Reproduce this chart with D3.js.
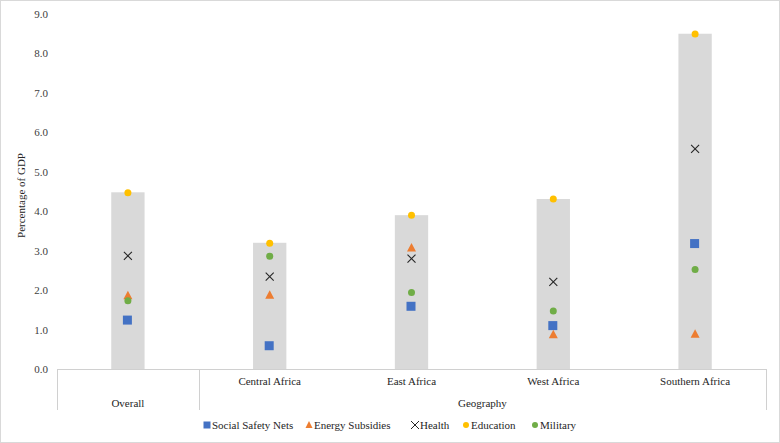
<!DOCTYPE html>
<html><head><meta charset="utf-8">
<script src="https://cdn.jsdelivr.net/npm/d3@7"></script>
<style>body{margin:0;background:#fff;} svg{display:block;} svg text{font-family:"Liberation Serif","Times New Roman","DejaVu Serif",serif !important;}</style>
</head><body>
<svg id="c" width="780" height="443"></svg>
<script>
const categories = ["Overall","Central Africa","East Africa","West Africa","Southern Africa"];
const groups = [{name:"Overall", from:0, to:0},{name:"Geography", from:1, to:4}];
const total = [4.48, 3.20, 3.90, 4.31, 8.50];
const socialSafetyNets = [1.24, 0.59, 1.59, 1.10, 3.18];
const energySubsidies = [1.86, 1.87, 3.07, 0.87, 0.88];
const health = [2.87, 2.34, 2.80, 2.21, 5.58];
const education = [4.47, 3.19, 3.90, 4.31, 8.49];
const military = [1.73, 2.86, 1.94, 1.47, 2.52];
const yTicks = [0,1,2,3,4,5,6,7,8,9];

(function(){
const svg = d3.select("#c");
const W=780,H=443;
const pl=57, pr=766, pt=14, pb=369;
svg.append("rect").attr("x",0.5).attr("y",0.5).attr("width",W-1).attr("height",H-1).attr("fill","#fff").attr("stroke","#d9d9d9");

const x = d3.scaleBand().domain(categories).range([pl,pr]).paddingInner(0).paddingOuter(0);
const y = d3.scaleLinear().domain([0,9]).range([pb,pt]);

// y axis
const ya = svg.append("g").attr("transform",`translate(${pl},0)`)
  .call(d3.axisLeft(y).tickValues(yTicks).tickFormat(d3.format(".1f")).tickSize(0).tickPadding(9));
ya.attr("font-family",null);
ya.select(".domain").remove();
ya.selectAll("text").attr("font-size",11).attr("fill","#404040");

svg.append("text").attr("transform",`translate(25,${(pt+pb)/2+4}) rotate(-90)`)
  .attr("text-anchor","middle").attr("font-size",11).attr("fill","#262626").text("Percentage of GDP");

// bars
const bw = x.bandwidth()*0.235;
svg.append("g").selectAll("rect").data(categories).join("rect")
  .attr("x",d=>x(d)+x.bandwidth()/2-bw/2).attr("width",bw)
  .attr("y",(d,i)=>y(total[i])).attr("height",(d,i)=>y(0)-y(total[i]))
  .attr("fill","#d9d9d9");

// category axis
const axc="#d0d0d0";
svg.append("line").attr("x1",pl).attr("x2",pr).attr("y1",pb+0.5).attr("y2",pb+0.5).attr("stroke",axc);
const seps=[pl, x(categories[1]), pr];
seps.forEach(s=>svg.append("line").attr("x1",Math.round(s)+0.5).attr("x2",Math.round(s)+0.5).attr("y1",pb).attr("y2",410).attr("stroke",axc));
svg.append("g").selectAll("text").data(categories).join("text")
  .attr("x",d=>x(d)+x.bandwidth()/2).attr("y",385).attr("text-anchor","middle")
  .attr("font-size",11).attr("fill","#262626")
  .text((d,i)=>i===0?"":d);
svg.append("g").selectAll("text").data(groups).join("text")
  .attr("x",g=>(x(categories[g.from])+x(categories[g.to])+x.bandwidth())/2).attr("y",407).attr("text-anchor","middle")
  .attr("font-size",11).attr("fill","#262626").text(g=>g.name);

// markers
const cx = d=>x(d)+x.bandwidth()/2;
const g = svg.append("g");
function square(vals,color){ g.append("g").selectAll("rect").data(categories).join("rect")
  .attr("x",d=>cx(d)-5).attr("y",(d,i)=>y(vals[i])-4.5).attr("width",9).attr("height",9).attr("fill",color);}
function tri(vals,color){ g.append("g").selectAll("path").data(categories).join("path")
  .attr("transform",(d,i)=>`translate(${cx(d)},${y(vals[i])})`)
  .attr("d","M0,-5L4.5,3.5L-4.5,3.5Z").attr("fill",color);}
function cross(vals,color){ g.append("g").selectAll("path").data(categories).join("path")
  .attr("transform",(d,i)=>`translate(${cx(d)},${y(vals[i])})`)
  .attr("d","M-4,-4L4,4M-4,4L4,-4").attr("stroke",color).attr("stroke-width",1.1).attr("fill","none");}
function circ(vals,color){ g.append("g").selectAll("circle").data(categories).join("circle")
  .attr("cx",d=>cx(d)).attr("cy",(d,i)=>y(vals[i])).attr("r",3.5).attr("fill",color);}
square(socialSafetyNets,"#4472c4");
tri(energySubsidies,"#ed7d31");
circ(military,"#70ad47");
cross(health,"#262626");
circ(education,"#ffc000");

// legend
const legend = [
 {name:"Social Safety Nets", type:"square", color:"#4472c4", x:203},
 {name:"Energy Subsidies", type:"tri", color:"#ed7d31", x:305},
 {name:"Health", type:"cross", color:"#262626", x:411},
 {name:"Education", type:"circle", color:"#ffc000", x:462},
 {name:"Military", type:"circle", color:"#70ad47", x:531}
];
const ly=425;
legend.forEach(l=>{
  const gx=svg.append("g").attr("transform",`translate(${l.x+4},${ly})`);
  if(l.type==="square") gx.append("rect").attr("x",-3.5).attr("y",-3.5).attr("width",7).attr("height",7).attr("fill",l.color);
  if(l.type==="tri") gx.append("path").attr("d","M0,-4L3.5,3L-3.5,3Z").attr("fill",l.color);
  if(l.type==="cross") gx.append("path").attr("d","M-4,-4L4,4M-4,4L4,-4").attr("stroke",l.color).attr("stroke-width",1).attr("fill","none");
  if(l.type==="circle") gx.append("circle").attr("r",3).attr("fill",l.color);
  svg.append("text").attr("x",l.x+9).attr("y",ly+4).attr("font-size",11).attr("fill","#262626").text(l.name);
});
})();
</script>
</body></html>
